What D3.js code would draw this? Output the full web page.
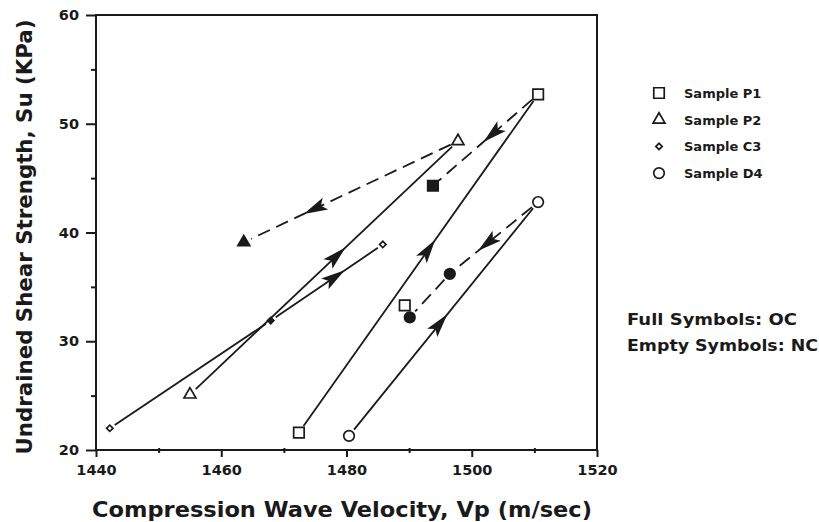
<!DOCTYPE html>
<html>
<head>
<meta charset="utf-8">
<script src="https://cdn.jsdelivr.net/npm/d3@7"></script>
<style>
  body { margin: 0; background: #fff; }
  text { font-family: "DejaVu Sans", sans-serif; font-weight: bold; fill: #1a1a1a; }
</style>
</head>
<body>
<svg id="chart" width="819" height="522"></svg>
<script>
// readings: Vp (m/sec), Su (KPa), full symbol = OC
var samples = ["Sample P1", "Sample P2", "Sample C3", "Sample D4"];
var symbolTypes = ["square", "triangle", "diamond", "circle"];

var p1Vp = [1472.4, 1510.6, 1493.8, 1489.3];
var p1Su = [21.6, 52.7, 44.3, 33.3];
var p1Full = [0, 0, 1, 0];
var p1Links = [[0, 1, 0, 0.57], [1, 2, 1, 0.52]]; // from, to, dashed, arrow at

var p2Vp = [1455.0, 1497.8, 1463.6];
var p2Su = [25.1, 48.4, 39.1];
var p2Full = [0, 0, 1];
var p2Links = [[0, 1, 0, 0.58], [1, 2, 1, 0.72]];

var c3Vp = [1442.2, 1467.9, 1485.8];
var c3Su = [22.0, 31.9, 38.9];
var c3Full = [0, 1, 0];
var c3Links = [[0, 1, 0, null], [1, 2, 0, 0.66]];

var d4Vp = [1480.4, 1510.6, 1496.5, 1490.1];
var d4Su = [21.3, 42.8, 36.2, 32.2];
var d4Full = [0, 0, 1, 1];
var d4Links = [[0, 1, 0, 0.52], [1, 2, 1, 0.68], [2, 3, 1, null]];

var xTicks = [1440, 1450, 1460, 1470, 1480, 1490, 1500, 1510, 1520];
var yTicks = [20, 25, 30, 35, 40, 45, 50, 55, 60];
var notes = ["Full Symbols: OC", "Empty Symbols: NC"];

var ink = "#1a1a1a";
var svg = d3.select("#chart");

var x = d3.scaleLinear().domain([1440, 1520]).range([96, 597]);
var y = d3.scaleLinear().domain([20, 60]).range([450, 15]);

// frame
svg.append("rect")
  .attr("x", x(1440)).attr("y", y(60))
  .attr("width", x(1520) - x(1440)).attr("height", y(20) - y(60))
  .attr("fill", "none").attr("stroke", ink).attr("stroke-width", 2);

// axes
var xAxis = svg.append("g")
  .attr("transform", "translate(0," + y(20) + ")")
  .call(d3.axisBottom(x).tickValues(xTicks).tickSize(6).tickPadding(9)
    .tickFormat(d => d % 20 === 0 ? d : ""));
xAxis.select(".domain").remove();
xAxis.selectAll("line").attr("stroke", ink).attr("stroke-width", 2)
  .attr("y1", d => d % 20 === 0 ? 0 : -2)
  .attr("y2", d => d % 20 === 0 ? 7 : 3);
xAxis.selectAll("text").attr("font-size", 14.5).attr("font-family", "DejaVu Sans").attr("fill", ink);

var yAxis = svg.append("g")
  .attr("transform", "translate(" + x(1440) + ",0)")
  .call(d3.axisLeft(y).tickValues(yTicks).tickSize(10).tickPadding(7)
    .tickFormat(d => d % 10 === 0 ? d : ""));
yAxis.select(".domain").remove();
yAxis.selectAll("line").attr("stroke", ink).attr("stroke-width", 2)
  .attr("x2", d => d % 10 === 0 ? -10 : -5);
yAxis.selectAll("text").attr("font-size", 14.5).attr("font-family", "DejaVu Sans").attr("fill", ink);

// axis titles
svg.append("text")
  .attr("x", 342).attr("y", 517)
  .attr("text-anchor", "middle").attr("font-size", 21)
  .attr("textLength", 500).attr("lengthAdjust", "spacingAndGlyphs")
  .text("Compression Wave Velocity, Vp (m/sec)");

svg.append("text")
  .attr("transform", "translate(32,237) rotate(-90)")
  .attr("text-anchor", "middle").attr("font-size", 21)
  .attr("textLength", 435).attr("lengthAdjust", "spacingAndGlyphs")
  .text("Undrained Shear Strength, Su (KPa)");

function symbolFor(type) {
  if (type === "square") return d3.symbol().type(d3.symbolSquare).size(110);
  if (type === "triangle") return d3.symbol().type(d3.symbolTriangle).size(62);
  if (type === "diamond") return d3.symbol().type(d3.symbolSquare).size(20);
  return d3.symbol().type(d3.symbolCircle).size(88);
}

function place(type, px, py) {
  return "translate(" + px + "," + py + ")" + (type === "diamond" ? " rotate(45)" : "");
}

function arrowHead(g, x0, y0, x1, y1) {
  var ang = Math.atan2(y1 - y0, x1 - x0) * 180 / Math.PI;
  g.append("path")
    .attr("d", "M0,0 L-24,-6.5 L-19,0 L-24,6.5 Z")
    .attr("transform", "translate(" + x0 + "," + y0 + ") rotate(" + ang + ")")
    .attr("fill", ink);
}

function drawSample(vp, su, full, links, type) {
  var pts = vp.map((v, i) => ({ px: x(v), py: y(su[i]), full: full[i] }));
  var g = svg.append("g");
  var gap = type === "diamond" ? 6 : 8;

  links.forEach(function (l) {
    var a = pts[l[0]], b = pts[l[1]];
    var dx = b.px - a.px, dy = b.py - a.py, len = Math.sqrt(dx * dx + dy * dy);
    var ux = dx / len, uy = dy / len;
    g.append("line")
      .attr("x1", a.px + ux * gap).attr("y1", a.py + uy * gap)
      .attr("x2", b.px - ux * gap).attr("y2", b.py - uy * gap)
      .attr("stroke", ink).attr("stroke-width", 1.8)
      .attr("stroke-dasharray", l[2] ? "13,7" : null);
    if (l[3] !== null) {
      arrowHead(g, a.px + dx * l[3], a.py + dy * l[3], b.px, b.py);
    }
  });

  var sym = symbolFor(type);
  g.selectAll(".pt")
    .data(pts)
    .enter()
    .append("path")
    .attr("d", sym)
    .attr("transform", d => place(type, d.px, d.py))
    .attr("fill", d => d.full ? ink : "#fff")
    .attr("stroke", ink)
    .attr("stroke-width", 1.7);
}

drawSample(p1Vp, p1Su, p1Full, p1Links, symbolTypes[0]);
drawSample(p2Vp, p2Su, p2Full, p2Links, symbolTypes[1]);
drawSample(c3Vp, c3Su, c3Full, c3Links, symbolTypes[2]);
drawSample(d4Vp, d4Su, d4Full, d4Links, symbolTypes[3]);

// legend
var legend = svg.append("g");
samples.forEach(function (s, i) {
  var ly = 93 + i * 26.7;
  legend.append("path")
    .attr("d", symbolFor(symbolTypes[i]))
    .attr("transform", place(symbolTypes[i], 659, ly))
    .attr("fill", "#fff").attr("stroke", ink).attr("stroke-width", 1.7);
  legend.append("text")
    .attr("x", 684).attr("y", ly + 5)
    .attr("font-size", 13)
    .text(s);
});

svg.append("text")
  .attr("x", 627).attr("y", 325).attr("font-size", 15)
  .attr("textLength", 170).attr("lengthAdjust", "spacingAndGlyphs")
  .text(notes[0]);
svg.append("text")
  .attr("x", 627).attr("y", 351).attr("font-size", 15)
  .attr("textLength", 191).attr("lengthAdjust", "spacingAndGlyphs")
  .text(notes[1]);
</script>
</body>
</html>
